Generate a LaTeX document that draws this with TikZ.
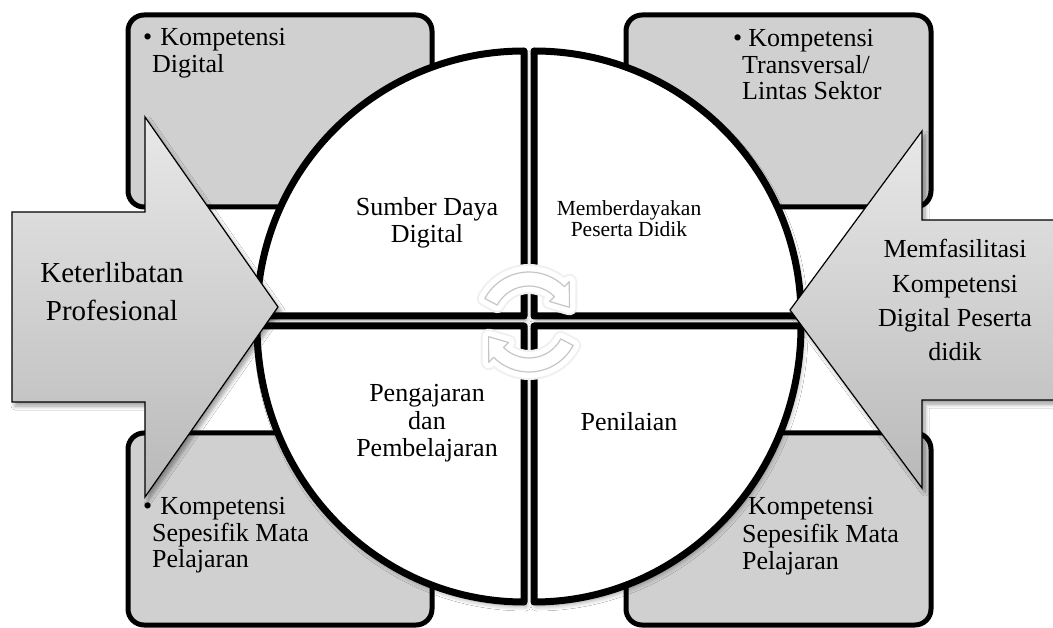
\documentclass[tikz,border=0pt]{standalone}
\usepackage{fontspec}
\setmainfont{Liberation Serif}
\usetikzlibrary{shadows.blur}
\definecolor{boxgray}{RGB}{208,208,208}
\begin{document}
\begin{tikzpicture}[x=1pt,y=-1pt,
  cbox/.style={draw=black, line width=5pt, fill=boxgray, rounded corners=16pt},
  quad/.style={draw=black, line width=7pt, fill=white, line join=round,
    blur shadow={shadow xshift=2pt, shadow yshift=-4pt, shadow blur steps=6, shadow blur radius=5pt}},
  bigarrow/.style={draw=black, line width=1.2pt, top color=gray!18, bottom color=gray!55,
    blur shadow={shadow xshift=3pt, shadow yshift=-4pt, shadow blur steps=6, shadow blur radius=4pt}},
  cyc/.style={fill=white, draw=gray!45, line width=1.2pt, line join=round},
  halo/.style={draw=white, line width=12pt, line join=round, fill=white},
  halo2/.style={draw=gray!12, line width=16pt, line join=round},
  lbl/.style={inner sep=0pt, align=center, anchor=north},
  boxtxt/.style={inner sep=0pt, align=left, anchor=north west}
]
\useasboundingbox (0,0) rectangle (1053,628);
\fill[white] (0,0) rectangle (1053,628);

% corner boxes
\draw[cbox] (128,15) rectangle (432,207);
\draw[cbox] (626,15) rectangle (931,207);
\draw[cbox] (128,433) rectangle (432,625);
\draw[cbox] (626,433) rectangle (931,625);

% circle quadrants
\def\rx{267}\def\ryT{265}\def\ryB{276}
\draw[quad] (524,316) -- ++(-\rx,0) arc[start angle=180, end angle=270, x radius=\rx, y radius=\ryT] -- cycle;
\draw[quad] (534,316) -- ++(0,-\ryT) arc[start angle=270, end angle=360, x radius=\rx, y radius=\ryT] -- cycle;
\draw[quad] (524,326) -- ++(0,\ryB) arc[start angle=90, end angle=180, x radius=\rx, y radius=\ryB] -- cycle;
\draw[quad] (534,326) -- ++(\rx,0) arc[start angle=0, end angle=90, x radius=\rx, y radius=\ryB] -- cycle;

% big arrows
\draw[bigarrow] (12,212) -- (145,212) -- (145,117) -- (278,307) -- (145,497) -- (145,402) -- (12,402) -- cycle;
\draw[bigarrow] (1070,220) -- (922,220) -- (922,131) -- (790,310) -- (922,488) -- (922,400) -- (1070,400) -- cycle;

% central cycle arrows
\begin{scope}[shift={(529,322)}]
  \path[halo2] (-152:50) arc[start angle=-152, end angle=-45, radius=50] -- (-45:57) -- (-20:43) -- (-45:29) -- (-45:36) arc[start angle=-45, end angle=-152, radius=36] -- cycle;
  \path[halo2] (28:50) arc[start angle=28, end angle=135, radius=50] -- (135:57) -- (160:43) -- (135:29) -- (135:36) arc[start angle=135, end angle=28, radius=36] -- cycle;
  \path[halo] (-152:50) arc[start angle=-152, end angle=-45, radius=50] -- (-45:57) -- (-20:43) -- (-45:29) -- (-45:36) arc[start angle=-45, end angle=-152, radius=36] -- cycle;
  \path[halo] (28:50) arc[start angle=28, end angle=135, radius=50] -- (135:57) -- (160:43) -- (135:29) -- (135:36) arc[start angle=135, end angle=28, radius=36] -- cycle;
  \draw[cyc] (-152:50) arc[start angle=-152, end angle=-45, radius=50] -- (-45:57) -- (-20:43) -- (-45:29) -- (-45:36) arc[start angle=-45, end angle=-152, radius=36] -- cycle;
  \draw[cyc] (28:50) arc[start angle=28, end angle=135, radius=50] -- (135:57) -- (160:43) -- (135:29) -- (135:36) arc[start angle=135, end angle=28, radius=36] -- cycle;
\end{scope}

% box texts
\node[boxtxt, font=\fontsize{26}{27}\selectfont] (tltext) at (143,28.3) {\textbullet\hspace{8pt}Kompetensi\\\hspace*{9pt}Digital};
\node[boxtxt, font=\fontsize{26}{26.5}\selectfont] (trtext) at (733,29.3) {\textbullet\hspace{6pt}Kompetensi\\\hspace*{9pt}Transversal/\\\hspace*{9pt}Lintas Sektor};
\node[boxtxt, font=\fontsize{26}{26.5}\selectfont] (bltext) at (143,497.3) {\textbullet\hspace{8pt}Kompetensi\\\hspace*{9pt}Sepesifik Mata\\\hspace*{9pt}Pelajaran};
\node[boxtxt, font=\fontsize{26}{27.5}\selectfont] (brtext) at (742,497.3) {\hspace*{6pt}Kompetensi\\Sepesifik Mata\\Pelajaran};

% arrow texts
\node[lbl, font=\fontsize{29}{38}\selectfont] (ket) at (112,262.3) {Keterlibatan\\Profesional};
\node[lbl, font=\fontsize{26}{34.3}\selectfont] (mem) at (955,239.3) {Memfasilitasi\\Kompetensi\\Digital Peserta\\didik};

% quadrant texts
\node[lbl, font=\fontsize{26}{27}\selectfont] (sdd) at (427,197.3) {Sumber Daya\\Digital};
\node[lbl, font=\fontsize{21.5}{21}\selectfont] (mpd) at (629,200.4) {Memberdayakan\\Peserta Didik};
\node[lbl, font=\fontsize{26}{27.5}\selectfont] (pdp) at (427,384.3) {Pengajaran\\dan\\Pembelajaran};
\node[lbl, font=\fontsize{26}{27}\selectfont] (pen) at (629,412.3) {Penilaian};
\end{tikzpicture}
\end{document}
